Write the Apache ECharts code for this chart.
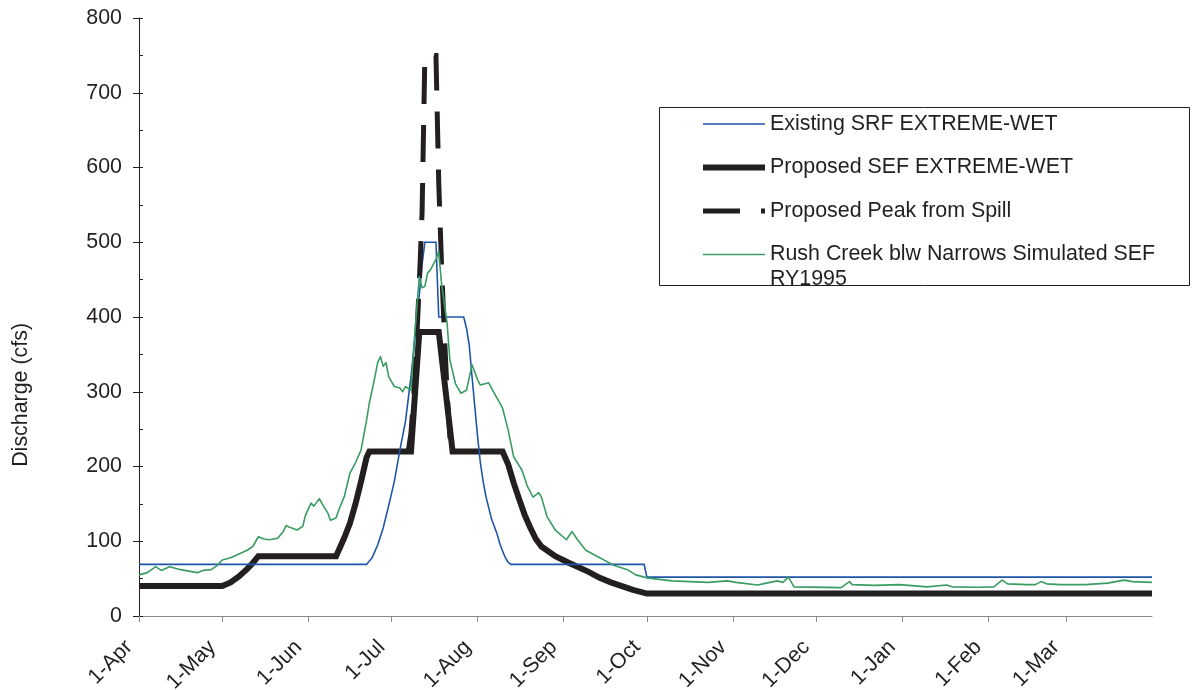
<!DOCTYPE html>
<html>
<head>
<meta charset="utf-8">
<script src="https://cdn.jsdelivr.net/npm/echarts@6/dist/echarts.min.js"></script>
<style>
  html, body { margin: 0; padding: 0; background: #ffffff; }
  #chart { width: 1193px; height: 690px; }
</style>
</head>
<body>
<div id="chart"></div>
<script>
// Water year days, counted from 1 April (day 0) to 31 March (day 365)
const monthStartDays = [0, 30, 61, 91, 122, 153, 183, 214, 244, 275, 306, 334];
const monthLabels = ['1-Apr', '1-May', '1-Jun', '1-Jul', '1-Aug', '1-Sep', '1-Oct', '1-Nov', '1-Dec', '1-Jan', '1-Feb', '1-Mar'];

// Existing stream restoration flow, extreme-wet year (cfs)
const existingSRF = [
  [0, 69], [82, 69], [84, 78], [86, 95], [88, 118], [90, 148], [92, 180], [94, 222],
  [96, 260], [98, 320], [99, 355], [100, 392], [101, 430], [102, 470], [103, 500],
  [107, 500], [108, 400], [117, 400], [118, 385], [119, 362], [120, 320], [121, 280],
  [122, 240], [123, 205], [124, 180], [125, 160], [126, 145], [127, 130], [128, 120],
  [129, 110], [130, 97], [131, 87], [132, 78], [133, 72], [134, 69], [182, 69],
  [183, 52], [365, 52]
];

// Proposed stream ecosystem flow, extreme-wet year (cfs)
const proposedSEF = [
  [0, 40], [30, 40], [33, 45], [36, 53], [39, 63], [41, 71], [43, 80], [71, 80],
  [74, 105], [76, 124], [78, 150], [80, 180], [82, 212], [83, 220], [98, 220],
  [101, 380], [108, 380], [113, 220], [131, 220], [133, 203], [135, 178], [137, 156],
  [139, 135], [141, 118], [143, 103], [145, 93], [150, 80], [155, 71], [158, 66],
  [162, 59], [166, 51], [170, 45], [174, 40], [178, 35], [183, 30], [365, 30]
];

// Proposed peak released from spill (cfs)
const proposedPeak = [
  [97, 220], [98, 245], [99, 295], [100, 365], [101, 445], [102, 540], [103, 750],
  [107, 750], [108, 580], [109, 470], [110, 380], [111, 300], [112, 240], [113, 220]
];

// Rush Creek below Narrows, simulated SEF for RY1995 (cfs)
const rushCreek = [
  [0, 55], [3, 58], [6, 66], [8, 61], [11, 66], [15, 62], [21, 58], [23, 61], [26, 62],
  [28, 67], [30, 75], [33, 78], [36, 83], [39, 88], [41, 93], [43, 106], [45, 103],
  [47, 102], [50, 104], [52, 113], [53, 121], [54, 119], [57, 115], [59, 120], [60, 135],
  [62, 151], [63, 147], [65, 157], [66, 150], [68, 138], [69, 128], [71, 131], [72, 142],
  [74, 160], [76, 191], [78, 205], [80, 222], [82, 262], [83, 285], [85, 320], [86, 339],
  [87, 347], [88, 334], [89, 339], [90, 320], [92, 307], [94, 305], [95, 300], [96, 307],
  [98, 302], [99, 360], [101, 454], [102, 439], [103, 441], [104, 459], [105, 463],
  [107, 477], [108, 488], [109, 445], [111, 392], [112, 343], [114, 311], [116, 298],
  [118, 302], [120, 336], [122, 316], [123, 309], [126, 312], [128, 298], [130, 285],
  [131, 278], [133, 249], [135, 213], [138, 195], [140, 173], [142, 159], [144, 165],
  [145, 159], [147, 133], [150, 115], [154, 102], [156, 113], [158, 102], [161, 88],
  [166, 78], [171, 68], [176, 62], [179, 55], [183, 51], [192, 47], [205, 45], [212, 47],
  [215, 45], [223, 41.5], [226, 44], [230, 47], [232, 45], [234, 52], [236, 39], [253, 38],
  [256, 46], [257, 42], [265, 41], [274, 42], [284, 39], [291, 41.5], [293, 39],
  [302, 38.5], [308, 39], [311, 48], [313, 43], [320, 42], [323, 42], [325, 46], [327, 43],
  [332, 42], [341, 42], [349, 44], [352, 46], [355, 48], [358, 46], [365, 45]
];

const seriesNames = [
  'Existing SRF EXTREME-WET',
  'Proposed SEF EXTREME-WET',
  'Proposed Peak from Spill',
  'Rush Creek blw Narrows Simulated SEF RY1995'
];

const FONT = 'Liberation Sans, Arial, sans-serif';
const FS = 21.4;
const INK = '#231f20';
const BLUE = '#1f55a8';
const GREEN = '#3a9c63';

const styles = [
  { color: BLUE, width: 1.6 },
  { color: INK, width: 6 },
  { color: INK, width: 5, type: [37, 21] },
  { color: GREEN, width: 1.6 }
];

const chart = echarts.init(document.getElementById('chart'), null, { renderer: 'canvas' });

const gridBox = { left: 139, right: 41, top: 18, bottom: 74, outerBoundsMode: 'none', containLabel: false };

chart.setOption({
  animation: false,
  backgroundColor: '#ffffff',
  textStyle: { fontFamily: FONT, color: INK },
  grid: [
    Object.assign({}, gridBox),
    Object.assign({}, gridBox)
  ],
  xAxis: [
    {
      gridIndex: 0,
      type: 'value',
      min: 0,
      max: 365,
      splitLine: { show: false },
      axisLine: { show: true, lineStyle: { color: '#8a8a8a', width: 1 } },
      axisTick: {
        show: true, inside: false, length: 6,
        customValues: monthStartDays,
        lineStyle: { color: '#8a8a8a', width: 1 }
      },
      axisLabel: {
        show: true,
        customValues: monthStartDays,
        rotate: 45,
        margin: 18,
        padding: [0, 14, 0, 0],
        fontSize: FS,
        fontFamily: FONT,
        color: INK,
        formatter: function (v) {
          const i = monthStartDays.indexOf(Math.round(v));
          return i >= 0 ? monthLabels[i] : '';
        }
      }
    },
    {
      gridIndex: 1,
      type: 'value',
      min: 0,
      max: 365,
      show: false
    }
  ],
  yAxis: [
    {
      gridIndex: 0,
      type: 'value',
      min: 0,
      max: 800,
      interval: 100,
      splitLine: { show: false },
      axisLine: { show: true, lineStyle: { color: INK, width: 1 } },
      axisTick: { show: true, inside: false, length: 6, lineStyle: { color: INK, width: 1 } },
      axisLabel: { fontSize: FS, fontFamily: FONT, color: INK, margin: 17 }
    },
    {
      // inner half of the crossing major ticks plus the 50-cfs minor ticks
      gridIndex: 1,
      type: 'value',
      min: 0,
      max: 800,
      interval: 100,
      splitLine: { show: false },
      axisLine: { show: false },
      axisLabel: { show: false },
      axisTick: { show: true, inside: true, length: 4, lineStyle: { color: INK, width: 1 } },
      minorTick: { show: true, splitNumber: 2, length: 4, lineStyle: { color: INK, width: 1 } }
    }
  ],
  legend: {
    orient: 'vertical',
    left: 700,
    top: 113,
    padding: 0,
    itemWidth: 62,
    itemHeight: 14,
    itemGap: 21.5,
    itemStyle: { color: 'transparent', borderWidth: 0, opacity: 0 },
    data: seriesNames.map(function (n, i) {
      return {
        name: n,
        lineStyle: { width: styles[i].width, type: styles[i].type || 'solid', color: styles[i].color, cap: 'butt' }
      };
    }),
    textStyle: { fontSize: FS, fontFamily: FONT, color: INK, lineHeight: 22 },
    formatter: function (name) {
      return name === seriesNames[3] ? 'Rush Creek blw Narrows Simulated SEF' : name;
    },
    selectedMode: false
  },
  graphic: [
    {
      type: 'text',
      left: 11,
      top: 323,
      rotation: Math.PI / 2,
      style: { text: 'Discharge (cfs)', fontSize: FS, fontFamily: FONT, fill: INK },
      z: 10
    },
    {
      type: 'text',
      left: 770,
      top: 269,
      style: { text: 'RY1995', fontSize: FS, fontFamily: FONT, fill: INK },
      z: 10
    },
    {
      type: 'rect',
      shape: { x: 660, y: 285.5, width: 533, height: 20 },
      style: { fill: '#ffffff' },
      z: 11
    },
    {
      type: 'rect',
      shape: { x: 659.5, y: 107.5, width: 530, height: 178 },
      style: { fill: 'none', stroke: INK, lineWidth: 1 },
      z: 12
    }
  ],
  series: [
    {
      name: seriesNames[0],
      type: 'line',
      data: existingSRF,
      symbol: 'none',
      lineStyle: { color: BLUE, width: styles[0].width, join: 'miter' },
      itemStyle: { color: BLUE },
      z: 3
    },
    {
      name: seriesNames[1],
      type: 'line',
      data: proposedSEF,
      symbol: 'none',
      lineStyle: { color: INK, width: styles[1].width, join: 'miter' },
      itemStyle: { color: INK },
      z: 2
    },
    {
      name: seriesNames[2],
      type: 'line',
      data: proposedPeak,
      symbol: 'none',
      lineStyle: { color: INK, width: styles[2].width, type: styles[2].type, join: 'miter', cap: 'butt' },
      itemStyle: { color: INK },
      z: 4
    },
    {
      name: seriesNames[3],
      type: 'line',
      data: rushCreek,
      symbol: 'none',
      lineStyle: { color: GREEN, width: styles[3].width, join: 'round' },
      itemStyle: { color: GREEN },
      z: 5
    }
  ]
});
</script>
</body>
</html>
